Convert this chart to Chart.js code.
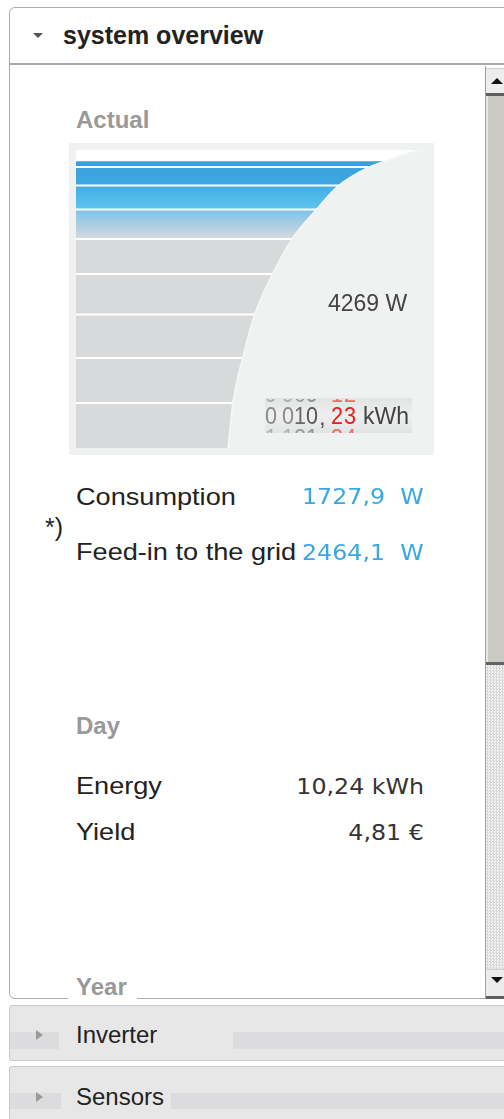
<!DOCTYPE html>
<html>
<head>
<meta charset="utf-8">
<script src="https://cdn.jsdelivr.net/npm/chart.js@4.4.1/dist/chart.umd.min.js"></script>
<style>
  body { margin:0; width:504px; height:1119px; overflow:hidden; background:#fff; position:relative;
         font-family:"Liberation Sans", Arial, sans-serif; color:#222; }
  .abs { position:absolute; white-space:nowrap; line-height:1; }
  .tit { font-weight:bold; color:#999; font-size:24px; }
  .lbl { font-size:24px; color:#222; transform:scaleX(1.13); transform-origin:left top; }
  .val { font-family:"DejaVu Sans", Verdana, sans-serif; font-size:21px; right:80px;
         transform:scaleX(1.13); transform-origin:right top; }
  .azul { color:#3ba7e2; }
  .gris { color:#333; }
  #panel { position:absolute; left:9px; top:7px; width:520px; height:992px; border:1px solid #acacac;
           border-radius:6px; box-sizing:border-box; background:#fff; }
  #cabecera { position:absolute; left:9px; top:63px; width:500px; height:2px; background:#a9a9a9; }
  .tri-abajo { position:absolute; width:0; height:0; border-left:5px solid transparent;
               border-right:5px solid transparent; border-top:5px solid #555; }
  .tri-der { position:absolute; width:0; height:0; border-top:5px solid transparent;
             border-bottom:5px solid transparent; border-left:7px solid #9a9a9a; }
  .barra { position:absolute; left:9px; width:520px; border:1px solid #c9c9c9; border-radius:3px;
           box-sizing:border-box; background:#e7e7e8; }
  .franja { position:absolute; left:0; right:0; background:#dcdcde; }
  .ocultar { position:absolute; background:#e7e7e8; }
  .rueda { position:absolute; top:399px; height:34px; overflow:hidden; width:14px;
           font-size:24px; transform:scaleX(0.9); }
  .rueda span { display:block; height:22px; line-height:22px; text-align:center; }
  .rueda span.fant { opacity:0.6; }
</style>
</head>
<body>

<div id="panel"></div>
<div id="cabecera"></div>
<div class="tri-abajo" style="left:33px;top:33px"></div>
<div class="abs" style="left:63px;top:23px;font-size:25px;font-weight:bold;color:#222">system overview</div>

<!-- barra de desplazamiento -->
<div class="abs" style="left:485px;top:66px;width:19px;height:933px;background:#fff;border-left:1px solid #a0a0a0"></div>
<div class="abs" style="left:486px;top:68px;width:18px;height:25px;background:#ededed;border-top:1px solid #d0d0d0"></div>
<div class="abs" style="left:491px;top:78px;width:0;height:0;border-left:6px solid transparent;border-right:6px solid transparent;border-bottom:6px solid #111"></div>
<div class="abs" style="left:486px;top:93px;width:18px;height:3px;background:#5e5e5e"></div>
<div class="abs" style="left:486px;top:96px;width:16px;height:566px;background:#cac9c4;border-left:2px solid #e6e6e4"></div>
<div class="abs" style="left:486px;top:662px;width:18px;height:3px;background:#646464"></div>
<div class="abs" style="left:486px;top:665px;width:18px;height:304px;
     background:repeating-conic-gradient(#d8d8d8 0 25%, #f4f4f4 0 50%) 0 0/3px 3px"></div>
<div class="abs" style="left:486px;top:969px;width:18px;height:27px;background:#ececec;border-top:1px solid #d0d0d0"></div>
<div class="abs" style="left:491px;top:977px;width:0;height:0;border-left:6px solid transparent;border-right:6px solid transparent;border-top:6px solid #111"></div>
<div class="abs" style="left:486px;top:996px;width:18px;height:3px;background:#5e5e5e"></div>

<div class="abs tit" style="left:76px;top:108px">Actual</div>

<canvas id="actual" width="365" height="312" style="position:absolute;left:69px;top:143px;background:#f0f1f1"></canvas>

<div class="abs" style="left:328px;top:292px;font-size:23px;color:#444">4269 W</div>
<div class="abs" style="left:265px;top:398px;width:147px;height:35px;
     background:linear-gradient(#e2e3e3,#eeefef 50%,#e2e3e3)"></div>
<div class="rueda" style="left:264px;color:#8a8a8a"><span class="fant" style="margin-top:-16px">9</span><span>0</span><span class="fant">1</span></div>
<div class="rueda" style="left:281px;color:#8a8a8a"><span class="fant" style="margin-top:-16px">9</span><span>0</span><span class="fant">1</span></div>
<div class="rueda" style="left:293px;color:#6a6a6a"><span class="fant" style="margin-top:-16px">0</span><span>1</span><span class="fant">2</span></div>
<div class="rueda" style="left:305px;color:#555"><span class="fant" style="margin-top:-16px">9</span><span>0</span><span class="fant">1</span></div>
<div class="abs" style="left:319px;top:405px;font-size:24px;color:#555">,</div>
<div class="rueda" style="left:330px;color:#f01818"><span class="fant" style="margin-top:-16px">1</span><span>2</span><span class="fant">3</span></div>
<div class="rueda" style="left:343px;color:#f01818"><span class="fant" style="margin-top:-16px">2</span><span>3</span><span class="fant">4</span></div>
<div class="abs" style="left:363px;top:405px;font-size:23px;color:#444">kWh</div>

<div class="abs lbl" style="left:76px;top:485px">Consumption</div>
<div class="abs val azul" style="top:487px">1727,9&nbsp;&nbsp;W</div>
<div class="abs" style="left:45px;top:515px;font-size:25px;color:#222">*)</div>
<div class="abs lbl" style="left:76px;top:540px">Feed-in to the grid</div>
<div class="abs val azul" style="top:543px">2464,1&nbsp;&nbsp;W</div>

<div class="abs tit" style="left:76px;top:714px">Day</div>
<div class="abs lbl" style="left:76px;top:774px">Energy</div>
<div class="abs val gris" style="top:777px">10,24 kWh</div>
<div class="abs lbl" style="left:76px;top:820px">Yield</div>
<div class="abs val gris" style="top:823px">4,81 €</div>

<div class="abs" style="left:68px;top:970px;width:69px;height:29px;background:#fff;overflow:hidden">
  <div class="abs tit" style="left:8px;top:5px">Year</div>
</div>

<!-- secciones cerradas -->
<div class="barra" style="top:1005px;height:56px">
  <div class="franja" style="top:26px;height:17px"></div>
  <div class="ocultar" style="left:49px;top:20px;width:174px;height:30px"></div>
</div>
<div class="tri-der" style="left:36px;top:1030px"></div>
<div class="abs" style="left:76px;top:1023px;font-size:24px;color:#222">Inverter</div>

<div class="barra" style="top:1066px;height:70px">
  <div class="franja" style="top:26px;height:16px"></div>
  <div class="ocultar" style="left:51px;top:20px;width:110px;height:30px"></div>
</div>
<div class="tri-der" style="left:36px;top:1092px"></div>
<div class="abs" style="left:76px;top:1085px;font-size:24px;color:#222">Sensors</div>

<script>
// Datos del indicador (escala 0-100)
// alto de cada franja, de abajo hacia arriba
const niveles = [15.1, 15.1, 14.6, 13.6, 11.7, 9.9, 8.1, 6.2, 2.3, 3.4];
// borde curvo que tapa las franjas
const curvaX = [43.2, 44.6, 47.4, 50.9, 55.7, 61.6, 67.9, 74.1, 82.7, 87.8, 98.6, 100];
const curvaY = [0, 15.4, 30.5, 45.3, 58.1, 70.5, 79.5, 87.6, 94.0, 96.3, 100, 100];

const GRIS = '#d8d9db';

// techo de cada franja
const techos = [];
niveles.reduce((suma, n) => { techos.push(suma + n); return suma + n; }, 0);

function degradado(i, arriba, abajo) {
    return (ctx) => {
        const chart = ctx.chart;
        if (!chart.chartArea) return abajo;
        const y = chart.scales.y;
        const base = i === 0 ? 0 : techos[i - 1];
        const g = chart.ctx.createLinearGradient(0, y.getPixelForValue(techos[i]), 0, y.getPixelForValue(base));
        g.addColorStop(0, arriba);
        g.addColorStop(1, abajo);
        return g;
    };
}

const colores = [GRIS, GRIS, GRIS, GRIS, GRIS,
    degradado(5, '#7cc2ea', GRIS),
    degradado(6, '#43ade4', '#5ec5f1'),
    degradado(7, '#3aa3de', '#3ea7e1'),
    '#3c9fda',
    '#ffffff'];

const franjas = techos.map((t, i) => ({
    data: [{x: 0, y: t}, {x: 100, y: t}],
    fill: i === 0 ? 'start' : '-1',
    backgroundColor: colores[i],
    borderColor: '#ffffff',
    borderWidth: 2,
    pointRadius: 0,
    order: 1
}));

const curva = {
    data: curvaX.map((x, i) => ({x: x, y: curvaY[i]})),
    fill: 'start',
    backgroundColor: '#f0f1f1',
    borderColor: '#f6f7f7',
    borderWidth: 1.5,
    pointRadius: 0,
    cubicInterpolationMode: 'monotone',
    order: 0
};

const grafico = document.getElementById('actual');
new Chart(grafico, {
    type: 'line',
    data: { datasets: [...franjas, curva] },
    options: {
        responsive: false,
        animation: false,
        layout: { padding: {left: 7, top: 7, right: 6, bottom: 7} },
        plugins: { legend: {display: false}, tooltip: {enabled: false} },
        scales: {
            x: { type: 'linear', display: false, min: 0, max: 100 },
            y: { type: 'linear', display: false, min: 0, max: 100 }
        }
    }
});
</script>
</body>
</html>
